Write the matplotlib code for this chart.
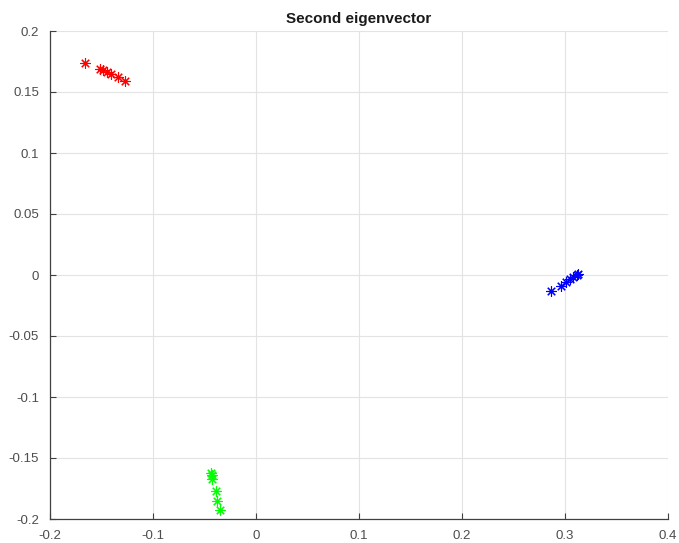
import matplotlib
matplotlib.use("Agg")
import matplotlib.pyplot as plt

red_x = [-0.1663, -0.1518, -0.1490, -0.1450, -0.1410, -0.1340, -0.1270]
red_y = [0.1736, 0.1690, 0.1680, 0.1660, 0.1647, 0.1627, 0.1590]
green_x = [-0.0440, -0.0430, -0.0425, -0.0390, -0.0376, -0.0350]
green_y = [-0.1620, -0.1640, -0.1670, -0.1770, -0.1850, -0.1930]
blue_x = [0.2867, 0.2957, 0.3006, 0.3048, 0.3080, 0.3113, 0.3130]
blue_y = [-0.0128, -0.0087, -0.0055, -0.0033, -0.0016, 0.0000, 0.0006]

title = "Second eigenvector"
xticks = [-0.2, -0.1, 0, 0.1, 0.2, 0.3, 0.4]
xticklabels = ["-0.2", "-0.1", "0", "0.1", "0.2", "0.3", "0.4"]
yticks = [-0.2, -0.15, -0.1, -0.05, 0, 0.05, 0.1, 0.15, 0.2]
yticklabels = ["-0.2", "-0.15", "-0.1", "-0.05", "0", "0.05", "0.1", "0.15", "0.2"]

plt.rcParams['font.family'] = ['Liberation Sans', 'DejaVu Sans']
fig = plt.figure(figsize=(6.79, 5.43), dpi=100)
ax = fig.add_axes([50/679, 1-519/543, 618/679, 488/543])

mk = (8, 2, 0)
for xs, ys, c in [(red_x, red_y, (1, 0, 0)), (green_x, green_y, (0, 1, 0)), (blue_x, blue_y, (0, 0, 1))]:
    ax.plot(xs, ys, linestyle='none', marker=mk, markersize=7.5, markeredgewidth=0.8,
            color=c, markeredgecolor=c)

ax.set_xlim(-0.2, 0.4)
ax.set_ylim(-0.2, 0.2)
ax.set_xticks(xticks)
ax.set_xticklabels(xticklabels)
ax.set_yticks(yticks)
ax.set_yticklabels(yticklabels)
ax.grid(True, color='#e3e3e3', linewidth=0.8)
ax.set_axisbelow(True)
for s in ['top', 'right']:
    ax.spines[s].set_visible(False)
for s in ['left', 'bottom']:
    ax.spines[s].set_color('#404040')
    ax.spines[s].set_linewidth(0.9)
ax.tick_params(direction='in', length=4, width=0.8, colors='#404040', labelsize=9.5,
               labelcolor='#4d4d4d', pad=8)
ax.set_title(title, fontsize=11, fontweight='bold', color='#1a1a1a', pad=6)

fig.savefig("out.png", dpi=100)
